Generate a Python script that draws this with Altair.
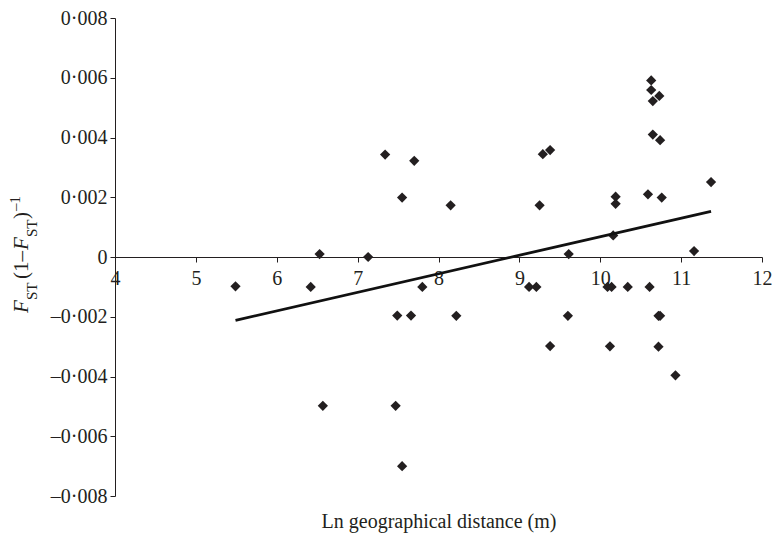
import altair as alt
import pandas as pd

# Scatter points: ln geographical distance vs FST/(1-FST)
dist = [5.49, 6.42, 6.53, 6.57, 7.13, 7.34, 7.49, 7.47, 7.55, 7.55, 7.66, 7.70, 7.80,
        8.15, 8.22, 9.12, 9.21, 9.25, 9.29, 9.38, 9.38, 9.61, 9.60, 10.09, 10.14,
        10.12, 10.16, 10.19, 10.19, 10.34, 10.59, 10.61, 10.63, 10.63, 10.73, 10.65,
        10.65, 10.74, 10.72, 10.74, 10.72, 10.76, 10.93, 11.16, 11.37]
fst = [-0.00098, -0.0010, 0.0001, -0.00498, 0.0, 0.00343, -0.00196, -0.00498, 0.00199,
       -0.0070, -0.00196, 0.00322, -0.0010, 0.00173, -0.00197, -0.0010, -0.0010, 0.00173,
       0.00344, 0.00358, -0.00298, 0.0001, -0.00197, -0.0010, -0.0010, -0.00299, 0.00072,
       0.00202, 0.00178, -0.0010, 0.0021, -0.0010, 0.00591, 0.00559, 0.00539, 0.00522,
       0.0041, 0.00391, -0.00197, -0.00197, -0.0030, 0.00199, -0.00396, 0.0002, 0.00251]

# Fitted line end points
line_x = [5.49, 11.37]
line_y = [-0.00212, 0.00153]

x_ticks = [4, 5, 6, 7, 8, 9, 10, 11, 12]
y_ticks = [-0.008, -0.006, -0.004, -0.002, 0.0, 0.002, 0.004, 0.006, 0.008]

FONT = "Liberation Serif"
INK = "#231f20"
W, H = 647, 478

pts = pd.DataFrame({"x": dist, "y": fst})
fit = pd.DataFrame({"x": line_x, "y": line_y})

xscale = alt.Scale(domain=[4, 12], nice=False, zero=False)
yscale = alt.Scale(domain=[-0.008, 0.008], nice=False, zero=False)

xaxis = alt.Axis(
    values=x_ticks, format="d", grid=False, offset=-H / 2,
    domainColor=INK, tickColor=INK, tickSize=5, labelFont=FONT, labelFontSize=20,
    labelColor=INK, labelPadding=6, labelFlush=False, labelOverlap=False,
    title="Ln geographical distance (m)", titleFont=FONT, titleFontSize=20,
    titleFontWeight="normal", titleColor=INK, titleX=W / 2, titleY=270,
    titleAlign="center", titleBaseline="alphabetic",
)
yaxis = alt.Axis(
    values=y_ticks, grid=False, domainColor=INK, tickColor=INK, tickSize=5,
    labelFont=FONT, labelFontSize=20, labelColor=INK, labelPadding=3,
    labelFlush=False, labelOverlap=False, title="",
    labelExpr="datum.value == 0 ? '0' : (datum.value < 0 ? '\u2013' : '') + '0\u00b7' + format(abs(datum.value) * 1000, '03d')",
)

points = alt.Chart(pts).mark_point(
    shape="diamond", filled=True, size=105, color=INK, opacity=1
).encode(
    x=alt.X("x:Q", scale=xscale, axis=xaxis),
    y=alt.Y("y:Q", scale=yscale, axis=yaxis),
)

line = alt.Chart(fit).mark_line(color="#111111", strokeWidth=2.8).encode(
    x=alt.X("x:Q", scale=xscale),
    y=alt.Y("y:Q", scale=yscale),
)

# Y title built from pieces (rotated, with subscripts/superscript)
pieces = [
    ("F", 21, "italic", -87, 295),
    ("ST", 15, "normal", -78, 282),
    ("(1\u2013", 21, "normal", -87, 261),
    ("F", 21, "italic", -87, 232),
    ("ST", 15, "normal", -78, 219),
    (")", 21, "normal", -87, 201),
    ("\u20131", 15, "normal", -95, 193),
]
title_layers = []
for txt, fs, style, px, py in pieces:
    title_layers.append(
        alt.Chart(pd.DataFrame({"t": [txt]})).mark_text(
            font=FONT, fontSize=fs, fontStyle=style, color=INK, angle=270,
            align="left", baseline="alphabetic",
        ).encode(text="t:N", x=alt.value(px), y=alt.value(py))
    )

chart = alt.layer(points, line, *title_layers).properties(
    width=W, height=H,
    autosize=alt.AutoSizeParams(type="none"),
    padding={"left": 107, "top": 10, "right": 10, "bottom": 40},
).configure_view(stroke=None)

chart.save("out.html", embed_options={"renderer": "svg", "actions": False})
